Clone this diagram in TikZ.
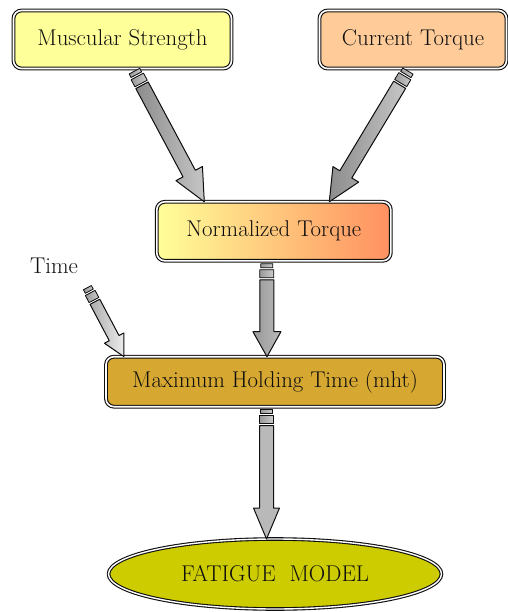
\documentclass[tikz,border=0pt]{standalone}
\usepackage{tikz}
\usetikzlibrary{calc,shapes.geometric}
\definecolor{FlowInk}{gray}{0.06}
\definecolor{FlowStrength}{HTML}{FFFF99}
\definecolor{FlowTorque}{HTML}{FFCC99}
\definecolor{FlowBlend}{HTML}{FFDD88}
\definecolor{FlowWarm}{HTML}{FF9060}
\definecolor{FlowHolding}{HTML}{D6A832}
\definecolor{FlowModel}{HTML}{CCCC00}
\tikzset{
    flow/diagram/.style={
        x=1pt, y=-1pt,
        font=\fontsize{22.8}{27}\selectfont,
        text=FlowInk,
        line join=round,
        every node/.style={inner sep=0pt, outer sep=0pt}
    },
    flow/head/.store in=\BaHead, flow/head=28,
    flow/barb/.store in=\BaBarb, flow/barb=14,
    flow/shank/.store in=\BaShank, flow/shank=7,
    flow/box/.style={
        rectangle, rounded corners=8pt, draw=FlowInk, line width=1.1pt,
        double=white, double distance=1.6pt
    },
    flow/model/.style={
        ellipse, draw=FlowInk, line width=1.1pt,
        double=white, double distance=1.4pt, fill=FlowModel
    },
    flow/stub/.style={draw=FlowInk, line width=0.8pt,
        left color=gray!80, right color=gray!40},
    flow/dark/.style={draw=FlowInk, line width=1pt,
        left color=gray!90, right color=gray!45},
    flow/light/.style={draw=FlowInk, line width=1pt,
        left color=gray!65, right color=gray!15},
    flow/steel/.style={draw=FlowInk, line width=1pt,
        left color=gray!80, middle color=gray!15, right color=gray!55},
    flow/plain/.style={draw=FlowInk, line width=1pt, fill=gray!55}
}
% block arrow: [scope keys]{start}{tip}{body style}
\newcommand\BlockArrow[4][]{%
    \path #2 coordinate (ba-s) #3 coordinate (ba-t);
    \path let \p1=(ba-s), \p2=(ba-t) in \pgfextra{%
        \pgfmathsetmacro\BaLen{veclen(\x2-\x1,\y2-\y1)}%
        \pgfmathsetmacro\BaAng{atan2(\y2-\y1,\x2-\x1)}%
        \global\let\BaLen\BaLen
        \global\let\BaAng\BaAng};
    \begin{scope}[shift={(ba-s)}, rotate=\BaAng, #1]
        \filldraw[flow/stub] (3,-\BaShank+1) rectangle (7,\BaShank-1);
        \filldraw[flow/stub] (9,-\BaShank) rectangle (17,\BaShank);
        \filldraw[#4] (19,-\BaShank) -- (\BaLen-\BaHead,-\BaShank)
            -- (\BaLen-\BaHead,-\BaBarb) -- (\BaLen,0)
            -- (\BaLen-\BaHead,\BaBarb) -- (\BaLen-\BaHead,\BaShank)
            -- (19,\BaShank) -- cycle;
    \end{scope}%
}
\begin{document}
\begin{tikzpicture}[flow/diagram]
    \useasboundingbox (0,0) rectangle (507,612);
    \node[flow/box, fill=FlowStrength, minimum width=218pt, minimum height=58pt]
        (strength) at (122.5,39.5) {Muscular Strength};
    \node[flow/box, fill=FlowTorque, minimum width=187pt, minimum height=58pt]
        (torque) at (413,39.5) {Current Torque};
    \node[flow/box, left color=FlowStrength, middle color=FlowBlend, right color=FlowWarm,
        minimum width=234pt, minimum height=59pt]
        (normal) at (273.8,231.3) {Normalized Torque};
    \node[flow/box, fill=FlowHolding, minimum width=338pt, minimum height=50pt]
        (holding) at (275,381.7) {Maximum Holding Time (mht)};
    \node[flow/model, minimum width=333pt, minimum height=70pt]
        (fatigue) at (275,574) {FATIGUE\ \ MODEL};
    \node (time) at (54,266) {Time};
    \coordinate (timeIn) at (86,285);

    \BlockArrow[flow/head=32, flow/barb=15]{(strength.-70)}{(normal.157)}{flow/dark}
    \BlockArrow[flow/head=32, flow/barb=15]{(torque.-97)}{(normal.28)}{flow/dark}
    \BlockArrow[flow/head=21, flow/barb=11, flow/shank=5.5]{(timeIn)}{([xshift=18pt]holding.north west)}{flow/light}
    \BlockArrow[flow/head=25]{([xshift=-7pt]normal.south)}{([xshift=-8pt]holding.north)}{flow/steel}
    \BlockArrow[flow/head=31, flow/barb=13]{([xshift=-8.5pt]holding.south)}{([xshift=-8.5pt]fatigue.north)}{flow/plain}
\end{tikzpicture}
\end{document}
